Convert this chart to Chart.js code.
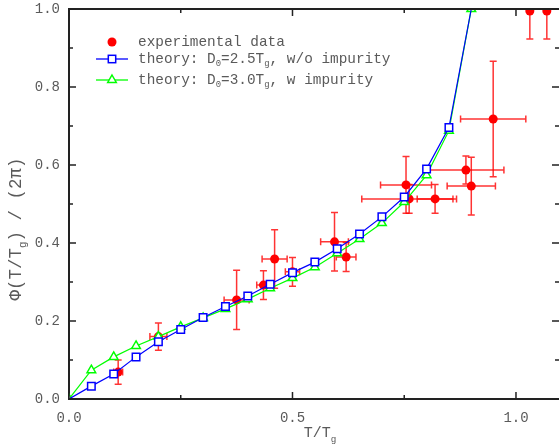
<!DOCTYPE html>
<html>
<head>
<meta charset="utf-8">
<script src="https://cdn.jsdelivr.net/npm/chart.js@4.4.1/dist/chart.umd.min.js"></script>
<style>
html, body { margin: 0; padding: 0; background: #fff; }
</style>
</head>
<body>
<canvas id="chart" width="559" height="445"></canvas>
<script>
// datos: temperatura reducida T/Tg y fase Phi/(2pi)
var theoryT = [0, 0.05, 0.1, 0.15, 0.2, 0.25, 0.3, 0.35, 0.4, 0.45, 0.5, 0.55, 0.6, 0.65, 0.7, 0.75, 0.8, 0.85, 0.9];
var phiNoImp = [0, 0.033, 0.064, 0.108, 0.147, 0.178, 0.209, 0.237, 0.264, 0.294, 0.324, 0.351, 0.385, 0.423, 0.467, 0.518, 0.59, 0.696, 1.0];
var phiImp = [0, 0.074, 0.108, 0.136, 0.16, 0.185, 0.208, 0.231, 0.256, 0.284, 0.31, 0.338, 0.374, 0.41, 0.451, 0.505, 0.574, 0.688, 1.0];

var expT = [0.11, 0.2, 0.375, 0.435, 0.46, 0.5, 0.594, 0.62, 0.754, 0.761, 0.819, 0.888, 0.9, 0.949, 1.031, 1.069];
var expPhi = [0.069, 0.16, 0.254, 0.292, 0.359, 0.326, 0.403, 0.364, 0.549, 0.513, 0.513, 0.587, 0.546, 0.718, 0.995, 0.995];
var expTErr = [0.01, 0.019, 0.028, 0.015, 0.028, 0.016, 0.031, 0.022, 0.057, 0.106, 0.04, 0.085, 0.054, 0.073, 0, 0];
var expPhiErr = [0.031, 0.035, 0.076, 0.037, 0.075, 0.037, 0.075, 0.037, 0.073, 0.037, 0.037, 0.036, 0.074, 0.148, 0.072, 0.072];

var xTicks = [0, 0.5, 1.0];
var xMinor = [0.25, 0.75];
var yTicks = [0, 0.2, 0.4, 0.6, 0.8, 1.0];
var yMinor = [0.1, 0.3, 0.5, 0.7, 0.9];

var font = '"Liberation Mono", "DejaVu Sans Mono", monospace';
var textColor = '#5a5a5a';

function pts(xs, ys) {
    var out = [];
    for (var i = 0; i < xs.length; i++) out.push({ x: xs[i], y: ys[i] });
    return out;
}

// texto con subindices: partes [texto, esSubindice]
function drawParts(ctx, parts, x, y, size, align) {
    var w = 0;
    parts.forEach(function (p) {
        ctx.font = (p[1] ? size * 0.62 : size) + 'px ' + font;
        w += ctx.measureText(p[0]).width;
    });
    var cx = align === 'center' ? x - w / 2 : x;
    parts.forEach(function (p) {
        ctx.font = (p[1] ? size * 0.62 : size) + 'px ' + font;
        ctx.fillText(p[0], cx, p[1] ? y + size * 0.3 : y);
        cx += ctx.measureText(p[0]).width;
    });
}

var errorBars = {
    id: 'errorBars',
    beforeDatasetsDraw: function (chart) {
        var ctx = chart.ctx, a = chart.chartArea, xs = chart.scales.x, ys = chart.scales.y;
        ctx.save();
        ctx.beginPath();
        ctx.rect(a.left, a.top, a.right - a.left, a.bottom - a.top);
        ctx.clip();
        ctx.strokeStyle = 'rgba(255,0,0,0.8)';
        ctx.lineWidth = 1.5;
        var c = 3.5;
        for (var i = 0; i < expT.length; i++) {
            var px = xs.getPixelForValue(expT[i]), py = ys.getPixelForValue(expPhi[i]);
            ctx.beginPath();
            if (expPhiErr[i]) {
                var y1 = ys.getPixelForValue(expPhi[i] - expPhiErr[i]);
                var y2 = ys.getPixelForValue(expPhi[i] + expPhiErr[i]);
                ctx.moveTo(px, y1); ctx.lineTo(px, y2);
                ctx.moveTo(px - c, y1); ctx.lineTo(px + c, y1);
                ctx.moveTo(px - c, y2); ctx.lineTo(px + c, y2);
            }
            if (expTErr[i]) {
                var x1 = xs.getPixelForValue(expT[i] - expTErr[i]);
                var x2 = xs.getPixelForValue(expT[i] + expTErr[i]);
                ctx.moveTo(x1, py); ctx.lineTo(x2, py);
                ctx.moveTo(x1, py - c); ctx.lineTo(x1, py + c);
                ctx.moveTo(x2, py - c); ctx.lineTo(x2, py + c);
            }
            ctx.stroke();
        }
        ctx.restore();
    }
};

var frame = {
    id: 'frame',
    afterDraw: function (chart) {
        var ctx = chart.ctx, a = chart.chartArea, xs = chart.scales.x, ys = chart.scales.y;
        ctx.save();
        ctx.strokeStyle = '#222';
        ctx.lineWidth = 2;
        ctx.beginPath();
        ctx.moveTo(a.left - 1, a.top); ctx.lineTo(chart.width, a.top);
        ctx.moveTo(a.left, a.bottom); ctx.lineTo(chart.width, a.bottom);
        ctx.stroke();
        // marcas hacia dentro
        ctx.lineWidth = 1.5;
        ctx.beginPath();
        function xt(v, len) {
            var p = xs.getPixelForValue(v);
            ctx.moveTo(p, a.bottom); ctx.lineTo(p, a.bottom - len);
            ctx.moveTo(p, a.top); ctx.lineTo(p, a.top + len);
        }
        function yt(v, len) {
            var p = ys.getPixelForValue(v);
            ctx.moveTo(a.left, p); ctx.lineTo(a.left + len, p);
            ctx.moveTo(a.right + 1, p); ctx.lineTo(a.right + 1 - len, p);
        }
        xTicks.forEach(function (v) { xt(v, 7); });
        xMinor.forEach(function (v) { xt(v, 4); });
        yTicks.forEach(function (v) { yt(v, 7); });
        yMinor.forEach(function (v) { yt(v, 4); });
        ctx.stroke();

        // titulos de ejes
        ctx.fillStyle = textColor;
        ctx.textBaseline = 'alphabetic';
        drawParts(ctx, [['T/T', false], ['g', true]], 320, 437, 15, 'center');
        ctx.save();
        ctx.translate(21, 229);
        ctx.rotate(-Math.PI / 2);
        drawParts(ctx, [['\u03A6(T/T', false], ['g', true], [') / (2\u03C0)', false]], 0, 0, 17.5, 'center');
        ctx.restore();

        // leyenda
        var lx = 112, tx = 138;
        ctx.fillStyle = '#ff0000';
        ctx.beginPath(); ctx.arc(lx, 42, 4.5, 0, Math.PI * 2); ctx.fill();

        ctx.lineWidth = 1.3;
        ctx.strokeStyle = '#0000ff';
        ctx.beginPath(); ctx.moveTo(96, 59); ctx.lineTo(128, 59); ctx.stroke();
        ctx.fillStyle = '#fff';
        ctx.fillRect(108.3, 55.3, 7.4, 7.4);
        ctx.lineWidth = 1.5;
        ctx.strokeRect(108.3, 55.3, 7.4, 7.4);

        ctx.lineWidth = 1.3;
        ctx.strokeStyle = '#00ff00';
        ctx.beginPath(); ctx.moveTo(96, 80); ctx.lineTo(128, 80); ctx.stroke();
        ctx.beginPath();
        ctx.moveTo(lx, 75); ctx.lineTo(lx + 4.3, 82.5); ctx.lineTo(lx - 4.3, 82.5); ctx.closePath();
        ctx.fill();
        ctx.lineWidth = 1.5;
        ctx.stroke();

        ctx.fillStyle = textColor;
        ctx.textBaseline = 'middle';
        drawParts(ctx, [['experimental data', false]], tx, 42, 14.4, 'left');
        drawParts(ctx, [['theory: D', false], ['0', true], ['=2.5T', false], ['g', true], [', w/o impurity', false]], tx, 59, 14.4, 'left');
        drawParts(ctx, [['theory: D', false], ['0', true], ['=3.0T', false], ['g', true], [', w impurity', false]], tx, 80, 14.4, 'left');
        ctx.restore();
    }
};

var ctx = document.getElementById('chart');

var chart = new Chart(ctx, {
    type: 'scatter',
    data: {
        datasets: [
            {
                label: 'theory: D0=2.5Tg, w/o impurity',
                data: pts(theoryT, phiNoImp),
                showLine: true,
                borderColor: '#0000ff',
                borderWidth: 1.2,
                pointStyle: 'rect',
                pointRadius: function (c) { return (c.dataIndex === 0 || c.dataIndex === theoryT.length - 1) ? 0 : 5.3; },
                pointBorderWidth: 1.5,
                pointBorderColor: '#0000ff',
                pointBackgroundColor: '#fff',
                order: 1
            },
            {
                label: 'theory: D0=3.0Tg, w impurity',
                data: pts(theoryT, phiImp),
                showLine: true,
                borderColor: '#00ff00',
                borderWidth: 1.2,
                pointStyle: 'triangle',
                pointRadius: 5,
                pointBorderWidth: 1.5,
                pointBorderColor: '#00ff00',
                pointBackgroundColor: '#fff',
                order: 2
            },
            {
                label: 'experimental data',
                data: pts(expT, expPhi),
                pointStyle: 'circle',
                pointRadius: 4.5,
                pointBorderWidth: 0,
                pointBackgroundColor: '#ff0000',
                order: 3
            }
        ]
    },
    options: {
        responsive: false,
        animation: false,
        layout: { autoPadding: false, padding: { top: 9, right: 1, left: 0, bottom: 0 } },
        plugins: { legend: { display: false }, tooltip: { enabled: false } },
        scales: {
            x: {
                type: 'linear',
                min: 0,
                max: 1.094,
                afterFit: function (s) { s.height = 46; s.paddingLeft = 0; s.paddingRight = 0; },
                afterBuildTicks: function (s) { s.ticks = xTicks.map(function (v) { return { value: v }; }); },
                grid: { display: false },
                border: { display: true, color: '#222', width: 2 },
                ticks: {
                    padding: 3,
                    color: textColor,
                    font: { family: font, size: 14 },
                    maxRotation: 0,
                    callback: function (v) { return v.toFixed(1); }
                }
            },
            y: {
                type: 'linear',
                min: 0,
                max: 1.0,
                afterFit: function (s) { s.width = 69; s.paddingTop = 0; s.paddingBottom = 0; },
                afterBuildTicks: function (s) { s.ticks = yTicks.map(function (v) { return { value: v }; }); },
                grid: { display: false },
                border: { display: true, color: '#222', width: 2 },
                ticks: {
                    padding: 1,
                    color: textColor,
                    font: { family: font, size: 14 },
                    callback: function (v) { return v.toFixed(1); }
                }
            }
        }
    },
    plugins: [errorBars, frame]
});
</script>
</body>
</html>
